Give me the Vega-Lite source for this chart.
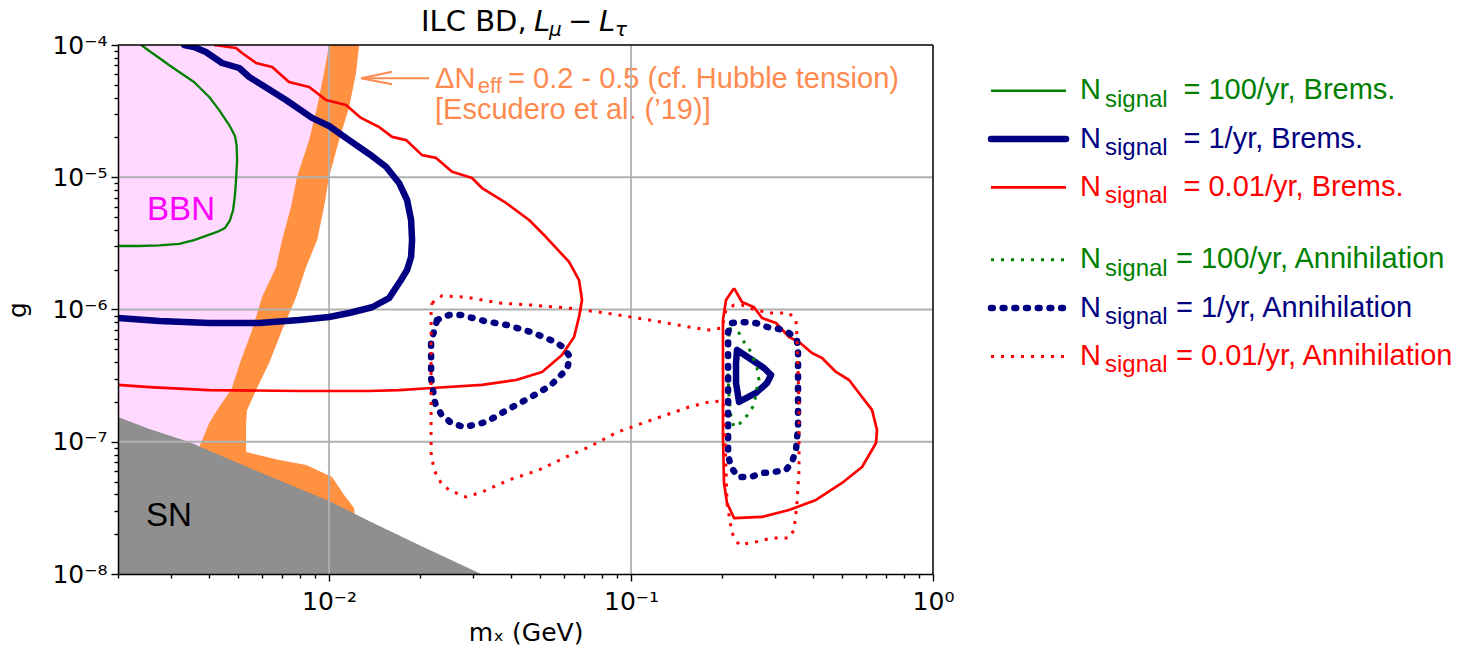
{
  "$schema": "https://vega.github.io/schema/vega-lite/v6.json",
  "width": 815,
  "height": 529,
  "autosize": {"type": "none"},
  "padding": {"left": 118, "top": 45, "right": 527, "bottom": 78},
  "background": "white",
  "config": {"view": {"stroke": null}, "font": "Liberation Sans", "axis": {"grid": false}},
  "datasets": {
    "band": [
      {"g": 1e-4, "lo": 0.0100, "hi": 0.01257},
      {"g": 6.142e-5, "lo": 0.00962, "hi": 0.01228},
      {"g": 3.398e-5, "lo": 0.00913, "hi": 0.01165},
      {"g": 1.912e-5, "lo": 0.00859, "hi": 0.01079},
      {"g": 1.004e-5, "lo": 0.00783, "hi": 0.0100},
      {"g": 5.957e-6, "lo": 0.00748, "hi": 0.00962},
      {"g": 3.354e-6, "lo": 0.00699, "hi": 0.00913},
      {"g": 2.096e-6, "lo": 0.00668, "hi": 0.00839},
      {"g": 1.243e-6, "lo": 0.00600, "hi": 0.00778},
      {"g": 6.998e-7, "lo": 0.00556, "hi": 0.00699},
      {"g": 3.940e-7, "lo": 0.00507, "hi": 0.00633},
      {"g": 2.462e-7, "lo": 0.00474, "hi": 0.00573},
      {"g": 2.180e-7, "lo": 0.00456, "hi": 0.00560},
      {"g": 1.739e-7, "lo": 0.00426, "hi": 0.00535},
      {"g": 1.386e-7, "lo": 0.00401, "hi": 0.00531},
      {"g": 8.366e-8, "lo": 0.00366, "hi": 0.00531},
      {"g": 7.278e-8, "lo": 0.00360, "hi": 0.00683},
      {"g": 6.671e-8, "lo": 0.00357, "hi": 0.00839},
      {"g": 5.415e-8, "lo": 0.00349, "hi": 0.01023},
      {"g": 3.957e-8, "lo": 0.00339, "hi": 0.01121},
      {"g": 3.155e-8, "lo": 0.00331, "hi": 0.01210},
      {"g": 2.150e-8, "lo": 0.00326, "hi": 0.01228}
    ],
    "sn": [
      {"m": 0.002, "g": 1.539e-7},
      {"m": 0.00254, "g": 1.248e-7},
      {"m": 0.00344, "g": 9.957e-8},
      {"m": 0.00587, "g": 5.905e-8},
      {"m": 0.0100, "g": 3.565e-8},
      {"m": 0.01357, "g": 2.517e-8},
      {"m": 0.01986, "g": 1.657e-8},
      {"m": 0.03187, "g": 1e-8},
      {"m": 1, "g": 1e-8}
    ],
    "curves": [
      {"series": "b100", "part": "A", "i": 0, "m": 0.002, "g": 3.02e-6},
      {"series": "b100", "part": "A", "i": 1, "m": 0.00235, "g": 3.02e-6},
      {"series": "b100", "part": "A", "i": 2, "m": 0.00274, "g": 3.05e-6},
      {"series": "b100", "part": "A", "i": 3, "m": 0.00319, "g": 3.13e-6},
      {"series": "b100", "part": "A", "i": 4, "m": 0.00357, "g": 3.35e-6},
      {"series": "b100", "part": "A", "i": 5, "m": 0.00391, "g": 3.60e-6},
      {"series": "b100", "part": "A", "i": 6, "m": 0.00426, "g": 3.86e-6},
      {"series": "b100", "part": "A", "i": 7, "m": 0.00452, "g": 4.13e-6},
      {"series": "b100", "part": "A", "i": 8, "m": 0.00470, "g": 4.75e-6},
      {"series": "b100", "part": "A", "i": 9, "m": 0.00481, "g": 5.65e-6},
      {"series": "b100", "part": "A", "i": 10, "m": 0.00488, "g": 7.34e-6},
      {"series": "b100", "part": "A", "i": 11, "m": 0.00492, "g": 9.53e-6},
      {"series": "b100", "part": "A", "i": 12, "m": 0.00496, "g": 1.35e-5},
      {"series": "b100", "part": "A", "i": 13, "m": 0.00494, "g": 1.75e-5},
      {"series": "b100", "part": "A", "i": 14, "m": 0.00488, "g": 2.05e-5},
      {"series": "b100", "part": "A", "i": 15, "m": 0.00467, "g": 2.48e-5},
      {"series": "b100", "part": "A", "i": 16, "m": 0.00432, "g": 3.23e-5},
      {"series": "b100", "part": "A", "i": 17, "m": 0.00401, "g": 4.04e-5},
      {"series": "b100", "part": "A", "i": 18, "m": 0.00357, "g": 5.25e-5},
      {"series": "b100", "part": "A", "i": 19, "m": 0.00319, "g": 6.25e-5},
      {"series": "b100", "part": "A", "i": 20, "m": 0.00295, "g": 7.06e-5},
      {"series": "b100", "part": "A", "i": 21, "m": 0.00274, "g": 7.97e-5},
      {"series": "b100", "part": "A", "i": 22, "m": 0.00254, "g": 9.01e-5},
      {"series": "b100", "part": "A", "i": 23, "m": 0.00239, "g": 1e-4},

      {"series": "b1", "part": "A", "i": 0, "m": 0.00331, "g": 1e-4},
      {"series": "b1", "part": "A", "i": 1, "m": 0.00357, "g": 9.66e-5},
      {"series": "b1", "part": "A", "i": 2, "m": 0.00391, "g": 8.85e-5},
      {"series": "b1", "part": "A", "i": 3, "m": 0.00442, "g": 7.31e-5},
      {"series": "b1", "part": "A", "i": 4, "m": 0.00504, "g": 6.70e-5},
      {"series": "b1", "part": "A", "i": 5, "m": 0.00544, "g": 5.73e-5},
      {"series": "b1", "part": "A", "i": 6, "m": 0.00600, "g": 4.98e-5},
      {"series": "b1", "part": "A", "i": 7, "m": 0.00720, "g": 3.84e-5},
      {"series": "b1", "part": "A", "i": 8, "m": 0.00878, "g": 2.81e-5},
      {"series": "b1", "part": "A", "i": 9, "m": 0.0100, "g": 2.44e-5},
      {"series": "b1", "part": "A", "i": 10, "m": 0.01165, "g": 1.91e-5},
      {"series": "b1", "part": "A", "i": 11, "m": 0.01357, "g": 1.50e-5},
      {"series": "b1", "part": "A", "i": 12, "m": 0.01544, "g": 1.20e-5},
      {"series": "b1", "part": "A", "i": 13, "m": 0.01705, "g": 9.05e-6},
      {"series": "b1", "part": "A", "i": 14, "m": 0.01813, "g": 6.73e-6},
      {"series": "b1", "part": "A", "i": 15, "m": 0.01869, "g": 4.75e-6},
      {"series": "b1", "part": "A", "i": 16, "m": 0.01883, "g": 3.35e-6},
      {"series": "b1", "part": "A", "i": 17, "m": 0.01869, "g": 2.50e-6},
      {"series": "b1", "part": "A", "i": 18, "m": 0.01813, "g": 1.99e-6},
      {"series": "b1", "part": "A", "i": 19, "m": 0.01731, "g": 1.67e-6},
      {"series": "b1", "part": "A", "i": 20, "m": 0.01580, "g": 1.22e-6},
      {"series": "b1", "part": "A", "i": 21, "m": 0.01388, "g": 1.04e-6},
      {"series": "b1", "part": "A", "i": 22, "m": 0.01165, "g": 9.41e-7},
      {"series": "b1", "part": "A", "i": 23, "m": 0.0100, "g": 8.78e-7},
      {"series": "b1", "part": "A", "i": 24, "m": 0.00796, "g": 8.33e-7},
      {"series": "b1", "part": "A", "i": 25, "m": 0.00587, "g": 7.90e-7},
      {"series": "b1", "part": "A", "i": 26, "m": 0.00401, "g": 7.90e-7},
      {"series": "b1", "part": "A", "i": 27, "m": 0.00274, "g": 8.19e-7},
      {"series": "b1", "part": "A", "i": 28, "m": 0.002, "g": 8.63e-7},
      {"series": "b1", "part": "B", "i": 0, "m": 0.2244, "g": 4.94e-7},
      {"series": "b1", "part": "B", "i": 1, "m": 0.2516, "g": 4.15e-7},
      {"series": "b1", "part": "B", "i": 2, "m": 0.2757, "g": 3.61e-7},
      {"series": "b1", "part": "B", "i": 3, "m": 0.2909, "g": 3.20e-7},
      {"series": "b1", "part": "B", "i": 4, "m": 0.2821, "g": 2.78e-7},
      {"series": "b1", "part": "B", "i": 5, "m": 0.2593, "g": 2.34e-7},
      {"series": "b1", "part": "B", "i": 6, "m": 0.2279, "g": 2.00e-7},
      {"series": "b1", "part": "B", "i": 7, "m": 0.2227, "g": 2.78e-7},
      {"series": "b1", "part": "B", "i": 8, "m": 0.2227, "g": 3.94e-7},
      {"series": "b1", "part": "B", "i": 9, "m": 0.2244, "g": 4.94e-7},

      {"series": "b001", "part": "A", "i": 0, "m": 0.00416, "g": 1e-4},
      {"series": "b001", "part": "A", "i": 1, "m": 0.00492, "g": 9.49e-5},
      {"series": "b001", "part": "A", "i": 2, "m": 0.00515, "g": 8.70e-5},
      {"series": "b001", "part": "A", "i": 3, "m": 0.00573, "g": 7.31e-5},
      {"series": "b001", "part": "A", "i": 4, "m": 0.00648, "g": 6.82e-5},
      {"series": "b001", "part": "A", "i": 5, "m": 0.00737, "g": 5.25e-5},
      {"series": "b001", "part": "A", "i": 6, "m": 0.00859, "g": 4.81e-5},
      {"series": "b001", "part": "A", "i": 7, "m": 0.00977, "g": 3.84e-5},
      {"series": "b001", "part": "A", "i": 8, "m": 0.01138, "g": 3.52e-5},
      {"series": "b001", "part": "A", "i": 9, "m": 0.01276, "g": 2.81e-5},
      {"series": "b001", "part": "A", "i": 10, "m": 0.01464, "g": 2.40e-5},
      {"series": "b001", "part": "A", "i": 11, "m": 0.01617, "g": 2.02e-5},
      {"series": "b001", "part": "A", "i": 12, "m": 0.01799, "g": 1.91e-5},
      {"series": "b001", "part": "A", "i": 13, "m": 0.02032, "g": 1.47e-5},
      {"series": "b001", "part": "A", "i": 14, "m": 0.02262, "g": 1.40e-5},
      {"series": "b001", "part": "A", "i": 15, "m": 0.02555, "g": 1.10e-5},
      {"series": "b001", "part": "A", "i": 16, "m": 0.02975, "g": 9.87e-6},
      {"series": "b001", "part": "A", "i": 17, "m": 0.03211, "g": 8.29e-6},
      {"series": "b001", "part": "A", "i": 18, "m": 0.03855, "g": 6.39e-6},
      {"series": "b001", "part": "A", "i": 19, "m": 0.04596, "g": 4.75e-6},
      {"series": "b001", "part": "A", "i": 20, "m": 0.05230, "g": 3.53e-6},
      {"series": "b001", "part": "A", "i": 21, "m": 0.06233, "g": 2.29e-6},
      {"series": "b001", "part": "A", "i": 22, "m": 0.06726, "g": 1.67e-6},
      {"series": "b001", "part": "A", "i": 23, "m": 0.06881, "g": 1.18e-6},
      {"series": "b001", "part": "A", "i": 24, "m": 0.06726, "g": 8.78e-7},
      {"series": "b001", "part": "A", "i": 25, "m": 0.06476, "g": 6.20e-7},
      {"series": "b001", "part": "A", "i": 26, "m": 0.05908, "g": 4.53e-7},
      {"series": "b001", "part": "A", "i": 27, "m": 0.05074, "g": 3.37e-7},
      {"series": "b001", "part": "A", "i": 28, "m": 0.04161, "g": 2.93e-7},
      {"series": "b001", "part": "A", "i": 29, "m": 0.03211, "g": 2.69e-7},
      {"series": "b001", "part": "A", "i": 30, "m": 0.02193, "g": 2.55e-7},
      {"series": "b001", "part": "A", "i": 31, "m": 0.01705, "g": 2.46e-7},
      {"series": "b001", "part": "A", "i": 32, "m": 0.01357, "g": 2.42e-7},
      {"series": "b001", "part": "A", "i": 33, "m": 0.00796, "g": 2.42e-7},
      {"series": "b001", "part": "A", "i": 34, "m": 0.00401, "g": 2.46e-7},
      {"series": "b001", "part": "A", "i": 35, "m": 0.00254, "g": 2.59e-7},
      {"series": "b001", "part": "A", "i": 36, "m": 0.002, "g": 2.69e-7},
      {"series": "b001", "part": "B", "i": 0, "m": 0.2193, "g": 1.45e-6},
      {"series": "b001", "part": "B", "i": 1, "m": 0.2330, "g": 1.14e-6},
      {"series": "b001", "part": "B", "i": 2, "m": 0.2555, "g": 1.04e-6},
      {"series": "b001", "part": "B", "i": 3, "m": 0.2716, "g": 8.63e-7},
      {"series": "b001", "part": "B", "i": 4, "m": 0.3021, "g": 7.90e-7},
      {"series": "b001", "part": "B", "i": 5, "m": 0.3336, "g": 6.20e-7},
      {"series": "b001", "part": "B", "i": 6, "m": 0.3600, "g": 5.68e-7},
      {"series": "b001", "part": "B", "i": 7, "m": 0.3974, "g": 4.69e-7},
      {"series": "b001", "part": "B", "i": 8, "m": 0.4291, "g": 4.30e-7},
      {"series": "b001", "part": "B", "i": 9, "m": 0.4773, "g": 3.37e-7},
      {"series": "b001", "part": "B", "i": 10, "m": 0.5272, "g": 2.93e-7},
      {"series": "b001", "part": "B", "i": 11, "m": 0.5821, "g": 2.18e-7},
      {"series": "b001", "part": "B", "i": 12, "m": 0.6281, "g": 1.74e-7},
      {"series": "b001", "part": "B", "i": 13, "m": 0.6525, "g": 1.23e-7},
      {"series": "b001", "part": "B", "i": 14, "m": 0.6476, "g": 9.78e-8},
      {"series": "b001", "part": "B", "i": 15, "m": 0.5821, "g": 6.44e-8},
      {"series": "b001", "part": "B", "i": 16, "m": 0.4997, "g": 4.88e-8},
      {"series": "b001", "part": "B", "i": 17, "m": 0.4099, "g": 3.63e-8},
      {"series": "b001", "part": "B", "i": 18, "m": 0.3336, "g": 3.05e-8},
      {"series": "b001", "part": "B", "i": 19, "m": 0.2716, "g": 2.70e-8},
      {"series": "b001", "part": "B", "i": 20, "m": 0.2193, "g": 2.65e-8},
      {"series": "b001", "part": "B", "i": 21, "m": 0.2079, "g": 3.44e-8},
      {"series": "b001", "part": "B", "i": 22, "m": 0.2032, "g": 4.88e-8},
      {"series": "b001", "part": "B", "i": 23, "m": 0.2016, "g": 1.09e-7},
      {"series": "b001", "part": "B", "i": 24, "m": 0.2016, "g": 3.49e-7},
      {"series": "b001", "part": "B", "i": 25, "m": 0.2016, "g": 8.33e-7},
      {"series": "b001", "part": "B", "i": 26, "m": 0.2063, "g": 1.18e-6},
      {"series": "b001", "part": "B", "i": 27, "m": 0.2193, "g": 1.45e-6},

      {"series": "a100", "part": "A", "i": 0, "m": 0.2111, "g": 7.25e-7},
      {"series": "a100", "part": "A", "i": 1, "m": 0.2279, "g": 6.64e-7},
      {"series": "a100", "part": "A", "i": 2, "m": 0.2367, "g": 5.68e-7},
      {"series": "a100", "part": "A", "i": 3, "m": 0.2497, "g": 4.77e-7},
      {"series": "a100", "part": "A", "i": 4, "m": 0.2613, "g": 3.61e-7},
      {"series": "a100", "part": "A", "i": 5, "m": 0.2653, "g": 2.93e-7},
      {"series": "a100", "part": "A", "i": 6, "m": 0.2613, "g": 2.55e-7},
      {"series": "a100", "part": "A", "i": 7, "m": 0.2555, "g": 1.90e-7},
      {"series": "a100", "part": "A", "i": 8, "m": 0.2459, "g": 1.65e-7},
      {"series": "a100", "part": "A", "i": 9, "m": 0.2330, "g": 1.41e-7},
      {"series": "a100", "part": "A", "i": 10, "m": 0.2193, "g": 1.29e-7},
      {"series": "a100", "part": "A", "i": 11, "m": 0.2144, "g": 1.54e-7},
      {"series": "a100", "part": "A", "i": 12, "m": 0.2111, "g": 2.18e-7},
      {"series": "a100", "part": "A", "i": 13, "m": 0.2096, "g": 3.09e-7},
      {"series": "a100", "part": "A", "i": 14, "m": 0.2096, "g": 4.37e-7},
      {"series": "a100", "part": "A", "i": 15, "m": 0.2111, "g": 5.88e-7},
      {"series": "a100", "part": "A", "i": 16, "m": 0.2111, "g": 7.25e-7},

      {"series": "a1", "part": "A", "i": 0, "m": 0.02279, "g": 8.33e-7},
      {"series": "a1", "part": "A", "i": 1, "m": 0.02496, "g": 9.09e-7},
      {"series": "a1", "part": "A", "i": 2, "m": 0.02736, "g": 9.09e-7},
      {"series": "a1", "part": "A", "i": 3, "m": 0.03261, "g": 8.19e-7},
      {"series": "a1", "part": "A", "i": 4, "m": 0.03885, "g": 7.63e-7},
      {"series": "a1", "part": "A", "i": 5, "m": 0.04665, "g": 6.76e-7},
      {"series": "a1", "part": "A", "i": 6, "m": 0.05516, "g": 5.78e-7},
      {"series": "a1", "part": "A", "i": 7, "m": 0.05953, "g": 5.21e-7},
      {"series": "a1", "part": "A", "i": 8, "m": 0.06281, "g": 4.37e-7},
      {"series": "a1", "part": "A", "i": 9, "m": 0.06139, "g": 3.55e-7},
      {"series": "a1", "part": "A", "i": 10, "m": 0.05391, "g": 2.64e-7},
      {"series": "a1", "part": "A", "i": 11, "m": 0.04596, "g": 2.14e-7},
      {"series": "a1", "part": "A", "i": 12, "m": 0.03885, "g": 1.74e-7},
      {"series": "a1", "part": "A", "i": 13, "m": 0.03311, "g": 1.41e-7},
      {"series": "a1", "part": "A", "i": 14, "m": 0.02799, "g": 1.29e-7},
      {"series": "a1", "part": "A", "i": 15, "m": 0.02535, "g": 1.39e-7},
      {"series": "a1", "part": "A", "i": 16, "m": 0.02349, "g": 1.62e-7},
      {"series": "a1", "part": "A", "i": 17, "m": 0.02244, "g": 1.96e-7},
      {"series": "a1", "part": "A", "i": 18, "m": 0.02177, "g": 3.03e-7},
      {"series": "a1", "part": "A", "i": 19, "m": 0.02177, "g": 5.68e-7},
      {"series": "a1", "part": "A", "i": 20, "m": 0.02279, "g": 8.33e-7},
      {"series": "a1", "part": "B", "i": 0, "m": 0.2160, "g": 7.90e-7},
      {"series": "a1", "part": "B", "i": 1, "m": 0.2330, "g": 8.04e-7},
      {"series": "a1", "part": "B", "i": 2, "m": 0.2593, "g": 7.90e-7},
      {"series": "a1", "part": "B", "i": 3, "m": 0.2821, "g": 7.38e-7},
      {"series": "a1", "part": "B", "i": 4, "m": 0.3091, "g": 7.12e-7},
      {"series": "a1", "part": "B", "i": 5, "m": 0.3336, "g": 6.64e-7},
      {"series": "a1", "part": "B", "i": 6, "m": 0.3545, "g": 5.88e-7},
      {"series": "a1", "part": "B", "i": 7, "m": 0.3573, "g": 4.69e-7},
      {"series": "a1", "part": "B", "i": 8, "m": 0.3573, "g": 1.96e-7},
      {"series": "a1", "part": "B", "i": 9, "m": 0.3573, "g": 1.29e-7},
      {"series": "a1", "part": "B", "i": 10, "m": 0.3518, "g": 8.66e-8},
      {"series": "a1", "part": "B", "i": 11, "m": 0.3413, "g": 7.03e-8},
      {"series": "a1", "part": "B", "i": 12, "m": 0.3261, "g": 6.12e-8},
      {"series": "a1", "part": "B", "i": 13, "m": 0.2976, "g": 5.91e-8},
      {"series": "a1", "part": "B", "i": 14, "m": 0.2716, "g": 5.80e-8},
      {"series": "a1", "part": "B", "i": 15, "m": 0.2497, "g": 5.42e-8},
      {"series": "a1", "part": "B", "i": 16, "m": 0.2262, "g": 5.42e-8},
      {"series": "a1", "part": "B", "i": 17, "m": 0.2144, "g": 6.44e-8},
      {"series": "a1", "part": "B", "i": 18, "m": 0.2096, "g": 7.94e-8},
      {"series": "a1", "part": "B", "i": 19, "m": 0.2096, "g": 1.19e-7},
      {"series": "a1", "part": "B", "i": 20, "m": 0.2096, "g": 2.59e-7},
      {"series": "a1", "part": "B", "i": 21, "m": 0.2096, "g": 5.58e-7},
      {"series": "a1", "part": "B", "i": 22, "m": 0.2096, "g": 6.76e-7},
      {"series": "a1", "part": "B", "i": 23, "m": 0.2160, "g": 7.90e-7},

      {"series": "a001", "part": "A", "i": 0, "m": 0.02193, "g": 1.12e-6},
      {"series": "a001", "part": "A", "i": 1, "m": 0.02367, "g": 1.27e-6},
      {"series": "a001", "part": "A", "i": 2, "m": 0.02842, "g": 1.24e-6},
      {"series": "a001", "part": "A", "i": 3, "m": 0.03655, "g": 1.12e-6},
      {"series": "a001", "part": "A", "i": 4, "m": 0.04701, "g": 1.08e-6},
      {"series": "a001", "part": "A", "i": 5, "m": 0.06093, "g": 1.03e-6},
      {"series": "a001", "part": "A", "i": 6, "m": 0.08266, "g": 9.41e-7},
      {"series": "a001", "part": "A", "i": 7, "m": 0.1147, "g": 8.33e-7},
      {"series": "a001", "part": "A", "i": 8, "m": 0.1556, "g": 7.38e-7},
      {"series": "a001", "part": "A", "i": 9, "m": 0.1813, "g": 7.00e-7},
      {"series": "a001", "part": "A", "i": 10, "m": 0.2001, "g": 7.25e-7},
      {"series": "a001", "part": "A", "i": 11, "m": 0.2063, "g": 9.91e-7},
      {"series": "a001", "part": "A", "i": 12, "m": 0.2193, "g": 1.08e-6},
      {"series": "a001", "part": "A", "i": 13, "m": 0.2330, "g": 1.08e-6},
      {"series": "a001", "part": "A", "i": 14, "m": 0.2516, "g": 1.01e-6},
      {"series": "a001", "part": "A", "i": 15, "m": 0.2864, "g": 9.41e-7},
      {"series": "a001", "part": "A", "i": 16, "m": 0.3336, "g": 9.41e-7},
      {"series": "a001", "part": "A", "i": 17, "m": 0.3518, "g": 8.33e-7},
      {"series": "a001", "part": "A", "i": 18, "m": 0.3545, "g": 6.20e-7},
      {"series": "a001", "part": "A", "i": 19, "m": 0.3600, "g": 1.96e-7},
      {"series": "a001", "part": "A", "i": 20, "m": 0.3600, "g": 6.12e-8},
      {"series": "a001", "part": "A", "i": 21, "m": 0.3545, "g": 3.44e-8},
      {"series": "a001", "part": "A", "i": 22, "m": 0.3465, "g": 2.15e-8},
      {"series": "a001", "part": "A", "i": 23, "m": 0.3336, "g": 1.87e-8},
      {"series": "a001", "part": "A", "i": 24, "m": 0.2930, "g": 1.87e-8},
      {"series": "a001", "part": "A", "i": 25, "m": 0.2593, "g": 1.75e-8},
      {"series": "a001", "part": "A", "i": 26, "m": 0.2279, "g": 1.66e-8},
      {"series": "a001", "part": "A", "i": 27, "m": 0.2160, "g": 2.04e-8},
      {"series": "a001", "part": "A", "i": 28, "m": 0.2079, "g": 3.44e-8},
      {"series": "a001", "part": "A", "i": 29, "m": 0.2063, "g": 6.12e-8},
      {"series": "a001", "part": "A", "i": 30, "m": 0.2048, "g": 1.09e-7},
      {"series": "a001", "part": "A", "i": 31, "m": 0.2016, "g": 2.03e-7},
      {"series": "a001", "part": "A", "i": 32, "m": 0.1813, "g": 2.00e-7},
      {"series": "a001", "part": "A", "i": 33, "m": 0.1556, "g": 1.83e-7},
      {"series": "a001", "part": "A", "i": 34, "m": 0.1147, "g": 1.44e-7},
      {"series": "a001", "part": "A", "i": 35, "m": 0.08918, "g": 1.17e-7},
      {"series": "a001", "part": "A", "i": 36, "m": 0.07259, "g": 9.13e-8},
      {"series": "a001", "part": "A", "i": 37, "m": 0.06093, "g": 7.67e-8},
      {"series": "a001", "part": "A", "i": 38, "m": 0.04959, "g": 6.12e-8},
      {"series": "a001", "part": "A", "i": 39, "m": 0.03945, "g": 5.14e-8},
      {"series": "a001", "part": "A", "i": 40, "m": 0.03211, "g": 4.17e-8},
      {"series": "a001", "part": "A", "i": 41, "m": 0.02842, "g": 3.82e-8},
      {"series": "a001", "part": "A", "i": 42, "m": 0.02496, "g": 4.32e-8},
      {"series": "a001", "part": "A", "i": 43, "m": 0.02349, "g": 4.88e-8},
      {"series": "a001", "part": "A", "i": 44, "m": 0.02227, "g": 6.12e-8},
      {"series": "a001", "part": "A", "i": 45, "m": 0.02177, "g": 8.22e-8},
      {"series": "a001", "part": "A", "i": 46, "m": 0.02177, "g": 1.96e-7},
      {"series": "a001", "part": "A", "i": 47, "m": 0.02177, "g": 4.69e-7},
      {"series": "a001", "part": "A", "i": 48, "m": 0.02177, "g": 9.91e-7},
      {"series": "a001", "part": "A", "i": 49, "m": 0.02193, "g": 1.12e-6}
    ]
  },
  "layer": [
    {
      "data": {"name": "sn"},
      "mark": {"type": "area", "opacity": 0},
      "encoding": {
        "x": {"field": "m", "type": "quantitative", "scale": {"type": "log", "domain": [0.002, 1]},
          "axis": {
            "title": "mₓ (GeV)",
            "values": [0.002, 0.003, 0.004, 0.005, 0.006, 0.007, 0.008, 0.009, 0.01, 0.02, 0.03, 0.04, 0.05, 0.06, 0.07, 0.08, 0.09, 0.1, 0.2, 0.3, 0.4, 0.5, 0.6, 0.7, 0.8, 0.9, 1],
            "labelExpr": "abs(log(datum.value)/LN10 - round(log(datum.value)/LN10)) > 0.001 ? '' : (round(log(datum.value)/LN10) == -2 ? '10⁻²' : (round(log(datum.value)/LN10) == -1 ? '10⁻¹' : '10⁰'))",
            "grid": false,
            "tickSize": 7,
            "tickDash": {"condition": {"test": "abs(log(datum.value)/LN10 - round(log(datum.value)/LN10)) < 0.001", "value": [8, 0]}, "value": [4, 20]},
            "tickColor": "black", "tickWidth": 1.4,
            "domainColor": "black", "domainWidth": 1.5,
            "labelFont": "DejaVu Sans", "labelFontSize": 25, "labelColor": "black", "labelPadding": 8,
            "labelOverlap": false, "labelBound": false, "labelFlush": false,
            "titleFont": "DejaVu Sans", "titleFontSize": 25, "titleFontWeight": "normal", "titleColor": "black", "titlePadding": 6,
            "zindex": 1
          }
        },
        "y": {"field": "g", "type": "quantitative", "scale": {"type": "log", "domain": [1e-8, 1e-4]},
          "axis": {
            "title": "g",
            "values": [1e-8, 2e-8, 3e-8, 4e-8, 5e-8, 6e-8, 7e-8, 8e-8, 9e-8, 1e-7, 2e-7, 3e-7, 4e-7, 5e-7, 6e-7, 7e-7, 8e-7, 9e-7, 1e-6, 2e-6, 3e-6, 4e-6, 5e-6, 6e-6, 7e-6, 8e-6, 9e-6, 1e-5, 2e-5, 3e-5, 4e-5, 5e-5, 6e-5, 7e-5, 8e-5, 9e-5, 1e-4],
            "labelExpr": "abs(log(datum.value)/LN10 - round(log(datum.value)/LN10)) > 0.001 ? '' : (round(log(datum.value)/LN10) == -8 ? '10⁻⁸' : (round(log(datum.value)/LN10) == -7 ? '10⁻⁷' : (round(log(datum.value)/LN10) == -6 ? '10⁻⁶' : (round(log(datum.value)/LN10) == -5 ? '10⁻⁵' : '10⁻⁴'))))",
            "grid": false,
            "tickSize": 7,
            "tickDash": {"condition": {"test": "abs(log(datum.value)/LN10 - round(log(datum.value)/LN10)) < 0.001", "value": [8, 0]}, "value": [4, 20]},
            "tickColor": "black", "tickWidth": 1.4,
            "domainColor": "black", "domainWidth": 1.5,
            "labelFont": "DejaVu Sans", "labelFontSize": 25, "labelColor": "black", "labelPadding": 4,
            "labelOverlap": false, "labelBound": false, "labelFlush": false,
            "titleFont": "DejaVu Sans", "titleFontSize": 25, "titleFontWeight": "normal", "titleColor": "black", "titlePadding": 21,
            "zindex": 1
          }
        }
      }
    },
    {
      "data": {"name": "band"},
      "mark": {"type": "area", "orient": "horizontal", "color": "#FFD9FF", "clip": true},
      "encoding": {
        "y": {"field": "g", "type": "quantitative", "scale": {"type": "log", "domain": [1e-8, 1e-4]}},
        "x": {"field": "hi", "type": "quantitative", "scale": {"type": "log", "domain": [0.002, 1]}},
        "x2": {"datum": 0.002}
      }
    },
    {
      "data": {"name": "band"},
      "mark": {"type": "area", "orient": "horizontal", "color": "#FF9140", "clip": true},
      "encoding": {
        "y": {"field": "g", "type": "quantitative", "scale": {"type": "log", "domain": [1e-8, 1e-4]}},
        "x": {"field": "lo", "type": "quantitative", "scale": {"type": "log", "domain": [0.002, 1]}},
        "x2": {"field": "hi"}
      }
    },
    {
      "data": {"name": "sn"},
      "mark": {"type": "area", "color": "#8F8F8F", "clip": true},
      "encoding": {
        "x": {"field": "m", "type": "quantitative", "scale": {"type": "log", "domain": [0.002, 1]}},
        "y": {"field": "g", "type": "quantitative", "scale": {"type": "log", "domain": [1e-8, 1e-4]}},
        "y2": {"datum": 1e-8}
      }
    },
    {
      "data": {"values": [{}]},
      "mark": {"type": "text", "text": "BBN", "color": "#FF00FF", "font": "Liberation Sans", "fontSize": 33, "align": "left", "baseline": "alphabetic"},
      "encoding": {
        "x": {"datum": 0.002497, "type": "quantitative", "scale": {"type": "log", "domain": [0.002, 1]}},
        "y": {"datum": 4.75e-6, "type": "quantitative", "scale": {"type": "log", "domain": [1e-8, 1e-4]}}
      }
    },
    {
      "data": {"values": [{}]},
      "mark": {"type": "text", "text": "SN", "color": "black", "font": "Liberation Sans", "fontSize": 33, "align": "left", "baseline": "alphabetic"},
      "encoding": {
        "x": {"datum": 0.002477, "type": "quantitative", "scale": {"type": "log", "domain": [0.002, 1]}},
        "y": {"datum": 2.306e-8, "type": "quantitative", "scale": {"type": "log", "domain": [1e-8, 1e-4]}}
      }
    },
    {
      "data": {"values": [{}]},
      "mark": {"type": "text", "text": "ΔN", "color": "#FF8A50", "font": "Liberation Sans", "fontSize": 29, "align": "left", "baseline": "alphabetic"},
      "encoding": {
        "x": {"datum": 0.02244, "type": "quantitative", "scale": {"type": "log", "domain": [0.002, 1]}},
        "y": {"datum": 4.731e-5, "type": "quantitative", "scale": {"type": "log", "domain": [1e-8, 1e-4]}}
      }
    },
    {
      "data": {"values": [{}]},
      "mark": {"type": "text", "text": "eff", "color": "#FF8A50", "font": "Liberation Sans", "fontSize": 22, "align": "left", "baseline": "alphabetic"},
      "encoding": {
        "x": {"datum": 0.0311, "type": "quantitative", "scale": {"type": "log", "domain": [0.002, 1]}},
        "y": {"datum": 4.3e-5, "type": "quantitative", "scale": {"type": "log", "domain": [1e-8, 1e-4]}}
      }
    },
    {
      "data": {"values": [{}]},
      "mark": {"type": "text", "text": "= 0.2 - 0.5 (cf. Hubble tension)", "color": "#FF8A50", "font": "Liberation Sans", "fontSize": 29, "align": "left", "baseline": "alphabetic"},
      "encoding": {
        "x": {"datum": 0.03915, "type": "quantitative", "scale": {"type": "log", "domain": [0.002, 1]}},
        "y": {"datum": 4.731e-5, "type": "quantitative", "scale": {"type": "log", "domain": [1e-8, 1e-4]}}
      }
    },
    {
      "data": {"values": [{}]},
      "mark": {"type": "text", "text": "[Escudero et al. (’19)]", "color": "#FF8A50", "font": "Liberation Sans", "fontSize": 29, "align": "left", "baseline": "alphabetic"},
      "encoding": {
        "x": {"datum": 0.02244, "type": "quantitative", "scale": {"type": "log", "domain": [0.002, 1]}},
        "y": {"datum": 2.757e-5, "type": "quantitative", "scale": {"type": "log", "domain": [1e-8, 1e-4]}}
      }
    },
    {
      "data": {"values": [{}]},
      "mark": {"type": "rule", "color": "#FF8A50", "strokeWidth": 2},
      "encoding": {
        "x": {"datum": 0.02144, "type": "quantitative", "scale": {"type": "log", "domain": [0.002, 1]}},
        "x2": {"datum": 0.01276},
        "y": {"datum": 5.6e-5, "type": "quantitative", "scale": {"type": "log", "domain": [1e-8, 1e-4]}},
        "y2": {"datum": 5.6e-5}
      }
    },
    {
      "data": {"values": [{}]},
      "mark": {"type": "rule", "color": "#FF8A50", "strokeWidth": 2},
      "encoding": {
        "x": {"datum": 0.01276, "type": "quantitative", "scale": {"type": "log", "domain": [0.002, 1]}},
        "x2": {"datum": 0.01617},
        "y": {"datum": 5.6e-5, "type": "quantitative", "scale": {"type": "log", "domain": [1e-8, 1e-4]}},
        "y2": {"datum": 6.283e-5}
      }
    },
    {
      "data": {"values": [{}]},
      "mark": {"type": "rule", "color": "#FF8A50", "strokeWidth": 2},
      "encoding": {
        "x": {"datum": 0.01276, "type": "quantitative", "scale": {"type": "log", "domain": [0.002, 1]}},
        "x2": {"datum": 0.01617},
        "y": {"datum": 5.6e-5, "type": "quantitative", "scale": {"type": "log", "domain": [1e-8, 1e-4]}},
        "y2": {"datum": 5.045e-5}
      }
    },
    {
      "data": {"values": [{}]},
      "mark": {"type": "rule", "color": "#B0B0B0", "strokeWidth": 1.8},
      "encoding": {"x": {"datum": 0.01, "type": "quantitative", "scale": {"type": "log", "domain": [0.002, 1]}}}
    },
    {
      "data": {"values": [{}]},
      "mark": {"type": "rule", "color": "#B0B0B0", "strokeWidth": 1.8},
      "encoding": {"x": {"datum": 0.1, "type": "quantitative", "scale": {"type": "log", "domain": [0.002, 1]}}}
    },
    {
      "data": {"values": [{}]},
      "mark": {"type": "rule", "color": "#B0B0B0", "strokeWidth": 1.8},
      "encoding": {"y": {"datum": 1e-5, "type": "quantitative", "scale": {"type": "log", "domain": [1e-8, 1e-4]}}}
    },
    {
      "data": {"values": [{}]},
      "mark": {"type": "rule", "color": "#B0B0B0", "strokeWidth": 1.8},
      "encoding": {"y": {"datum": 1e-6, "type": "quantitative", "scale": {"type": "log", "domain": [1e-8, 1e-4]}}}
    },
    {
      "data": {"values": [{}]},
      "mark": {"type": "rule", "color": "#B0B0B0", "strokeWidth": 1.8},
      "encoding": {"y": {"datum": 1e-7, "type": "quantitative", "scale": {"type": "log", "domain": [1e-8, 1e-4]}}}
    },
    {
      "data": {"name": "curves"},
      "transform": [{"filter": "datum.series == 'b100'"}],
      "mark": {"type": "line", "color": "#008000", "strokeWidth": 2.3, "strokeJoin": "round", "clip": true},
      "encoding": {
        "x": {"field": "m", "type": "quantitative", "scale": {"type": "log", "domain": [0.002, 1]}},
        "y": {"field": "g", "type": "quantitative", "scale": {"type": "log", "domain": [1e-8, 1e-4]}},
        "detail": {"field": "part"},
        "order": {"field": "i", "type": "quantitative"}
      }
    },
    {
      "data": {"name": "curves"},
      "transform": [{"filter": "datum.series == 'b1'"}],
      "mark": {"type": "line", "color": "#000080", "strokeWidth": 6.5, "strokeJoin": "round", "strokeCap": "round", "clip": true},
      "encoding": {
        "x": {"field": "m", "type": "quantitative", "scale": {"type": "log", "domain": [0.002, 1]}},
        "y": {"field": "g", "type": "quantitative", "scale": {"type": "log", "domain": [1e-8, 1e-4]}},
        "detail": {"field": "part"},
        "order": {"field": "i", "type": "quantitative"}
      }
    },
    {
      "data": {"name": "curves"},
      "transform": [{"filter": "datum.series == 'b001'"}],
      "mark": {"type": "line", "color": "#FF0000", "strokeWidth": 2.7, "strokeJoin": "round", "clip": true},
      "encoding": {
        "x": {"field": "m", "type": "quantitative", "scale": {"type": "log", "domain": [0.002, 1]}},
        "y": {"field": "g", "type": "quantitative", "scale": {"type": "log", "domain": [1e-8, 1e-4]}},
        "detail": {"field": "part"},
        "order": {"field": "i", "type": "quantitative"}
      }
    },
    {
      "data": {"name": "curves"},
      "transform": [{"filter": "datum.series == 'a100'"}],
      "mark": {"type": "line", "color": "#008000", "strokeWidth": 3, "strokeDash": [3, 7], "clip": true},
      "encoding": {
        "x": {"field": "m", "type": "quantitative", "scale": {"type": "log", "domain": [0.002, 1]}},
        "y": {"field": "g", "type": "quantitative", "scale": {"type": "log", "domain": [1e-8, 1e-4]}},
        "detail": {"field": "part"},
        "order": {"field": "i", "type": "quantitative"}
      }
    },
    {
      "data": {"name": "curves"},
      "transform": [{"filter": "datum.series == 'a1'"}],
      "mark": {"type": "line", "color": "#000080", "strokeWidth": 6.5, "strokeDash": [1.8, 9.9], "strokeCap": "round", "clip": true},
      "encoding": {
        "x": {"field": "m", "type": "quantitative", "scale": {"type": "log", "domain": [0.002, 1]}},
        "y": {"field": "g", "type": "quantitative", "scale": {"type": "log", "domain": [1e-8, 1e-4]}},
        "detail": {"field": "part"},
        "order": {"field": "i", "type": "quantitative"}
      }
    },
    {
      "data": {"name": "curves"},
      "transform": [{"filter": "datum.series == 'a001'"}],
      "mark": {"type": "line", "color": "#FF0000", "strokeWidth": 3, "strokeDash": [3, 7], "clip": true},
      "encoding": {
        "x": {"field": "m", "type": "quantitative", "scale": {"type": "log", "domain": [0.002, 1]}},
        "y": {"field": "g", "type": "quantitative", "scale": {"type": "log", "domain": [1e-8, 1e-4]}},
        "detail": {"field": "part"},
        "order": {"field": "i", "type": "quantitative"}
      }
    },
    {
      "data": {"values": [{}]},
      "mark": {"type": "rule", "color": "black", "strokeWidth": 1.5},
      "encoding": {"y": {"datum": 1e-4, "type": "quantitative", "scale": {"type": "log", "domain": [1e-8, 1e-4]}}}
    },
    {
      "data": {"values": [{}]},
      "mark": {"type": "rule", "color": "black", "strokeWidth": 1.5},
      "encoding": {"x": {"datum": 1, "type": "quantitative", "scale": {"type": "log", "domain": [0.002, 1]}}}
    },
    {
      "data": {"values": [{}]},
      "mark": {"type": "text", "text": "ILC BD,", "color": "black", "font": "DejaVu Sans", "fontSize": 29, "align": "left", "baseline": "alphabetic"},
      "encoding": {
        "x": {"datum": 0.02016, "type": "quantitative", "scale": {"type": "log", "domain": [0.002, 1]}},
        "y": {"datum": 1.276e-4, "type": "quantitative", "scale": {"type": "log", "domain": [1e-8, 1e-4]}}
      }
    },
    {
      "data": {"values": [{}]},
      "mark": {"type": "text", "text": "L", "color": "black", "font": "DejaVu Sans", "fontStyle": "italic", "fontSize": 29, "align": "left", "baseline": "alphabetic"},
      "encoding": {
        "x": {"datum": 0.04773, "type": "quantitative", "scale": {"type": "log", "domain": [0.002, 1]}},
        "y": {"datum": 1.276e-4, "type": "quantitative", "scale": {"type": "log", "domain": [1e-8, 1e-4]}}
      }
    },
    {
      "data": {"values": [{}]},
      "mark": {"type": "text", "text": "μ", "color": "black", "font": "DejaVu Sans", "fontStyle": "italic", "fontSize": 20, "align": "left", "baseline": "alphabetic"},
      "encoding": {
        "x": {"datum": 0.05352, "type": "quantitative", "scale": {"type": "log", "domain": [0.002, 1]}},
        "y": {"datum": 1.170e-4, "type": "quantitative", "scale": {"type": "log", "domain": [1e-8, 1e-4]}}
      }
    },
    {
      "data": {"values": [{}]},
      "mark": {"type": "text", "text": "−", "color": "black", "font": "DejaVu Sans", "fontSize": 29, "align": "left", "baseline": "alphabetic"},
      "encoding": {
        "x": {"datum": 0.06185, "type": "quantitative", "scale": {"type": "log", "domain": [0.002, 1]}},
        "y": {"datum": 1.276e-4, "type": "quantitative", "scale": {"type": "log", "domain": [1e-8, 1e-4]}}
      }
    },
    {
      "data": {"values": [{}]},
      "mark": {"type": "text", "text": "L", "color": "black", "font": "DejaVu Sans", "fontStyle": "italic", "fontSize": 29, "align": "left", "baseline": "alphabetic"},
      "encoding": {
        "x": {"datum": 0.07834, "type": "quantitative", "scale": {"type": "log", "domain": [0.002, 1]}},
        "y": {"datum": 1.276e-4, "type": "quantitative", "scale": {"type": "log", "domain": [1e-8, 1e-4]}}
      }
    },
    {
      "data": {"values": [{}]},
      "mark": {"type": "text", "text": "τ", "color": "black", "font": "DejaVu Sans", "fontStyle": "italic", "fontSize": 20, "align": "left", "baseline": "alphabetic"},
      "encoding": {
        "x": {"datum": 0.08851, "type": "quantitative", "scale": {"type": "log", "domain": [0.002, 1]}},
        "y": {"datum": 1.170e-4, "type": "quantitative", "scale": {"type": "log", "domain": [1e-8, 1e-4]}}
      }
    },

    {"data": {"values": [{}]}, "mark": {"type": "rule", "color": "#008000", "strokeWidth": 2.5},
     "encoding": {"x": {"datum": 1.556, "type": "quantitative", "scale": {"type": "log", "domain": [0.002, 1]}}, "x2": {"datum": 2.757},
                  "y": {"datum": 4.512e-5, "type": "quantitative", "scale": {"type": "log", "domain": [1e-8, 1e-4]}}}},
    {"data": {"values": [{}]}, "mark": {"type": "rule", "color": "#000080", "strokeWidth": 6.5, "strokeCap": "round"},
     "encoding": {"x": {"datum": 1.556, "type": "quantitative", "scale": {"type": "log", "domain": [0.002, 1]}}, "x2": {"datum": 2.757},
                  "y": {"datum": 1.946e-5, "type": "quantitative", "scale": {"type": "log", "domain": [1e-8, 1e-4]}}}},
    {"data": {"values": [{}]}, "mark": {"type": "rule", "color": "#FF0000", "strokeWidth": 2.8},
     "encoding": {"x": {"datum": 1.556, "type": "quantitative", "scale": {"type": "log", "domain": [0.002, 1]}}, "x2": {"datum": 2.757},
                  "y": {"datum": 8.395e-6, "type": "quantitative", "scale": {"type": "log", "domain": [1e-8, 1e-4]}}}},
    {"data": {"values": [{}]}, "mark": {"type": "rule", "color": "#008000", "strokeWidth": 3, "strokeDash": [3, 7]},
     "encoding": {"x": {"datum": 1.556, "type": "quantitative", "scale": {"type": "log", "domain": [0.002, 1]}}, "x2": {"datum": 2.757},
                  "y": {"datum": 2.375e-6, "type": "quantitative", "scale": {"type": "log", "domain": [1e-8, 1e-4]}}}},
    {"data": {"values": [{}]}, "mark": {"type": "rule", "color": "#000080", "strokeWidth": 6.5, "strokeDash": [1.8, 9.9], "strokeCap": "round"},
     "encoding": {"x": {"datum": 1.556, "type": "quantitative", "scale": {"type": "log", "domain": [0.002, 1]}}, "x2": {"datum": 2.757},
                  "y": {"datum": 1.025e-6, "type": "quantitative", "scale": {"type": "log", "domain": [1e-8, 1e-4]}}}},
    {"data": {"values": [{}]}, "mark": {"type": "rule", "color": "#FF0000", "strokeWidth": 3, "strokeDash": [3, 7]},
     "encoding": {"x": {"datum": 1.556, "type": "quantitative", "scale": {"type": "log", "domain": [0.002, 1]}}, "x2": {"datum": 2.757},
                  "y": {"datum": 4.419e-7, "type": "quantitative", "scale": {"type": "log", "domain": [1e-8, 1e-4]}}}},

    {"data": {"values": [{}]}, "mark": {"type": "text", "text": "N", "color": "#008000", "font": "Liberation Sans", "fontSize": 29, "align": "left", "baseline": "alphabetic", "dy": 8.5},
     "encoding": {"x": {"datum": 3.068, "type": "quantitative", "scale": {"type": "log", "domain": [0.002, 1]}},
                  "y": {"datum": 4.512e-5, "type": "quantitative", "scale": {"type": "log", "domain": [1e-8, 1e-4]}}}},
    {"data": {"values": [{}]}, "mark": {"type": "text", "text": "signal", "color": "#008000", "font": "Liberation Sans", "fontSize": 24, "align": "left", "baseline": "alphabetic", "dy": 16},
     "encoding": {"x": {"datum": 3.711, "type": "quantitative", "scale": {"type": "log", "domain": [0.002, 1]}},
                  "y": {"datum": 4.512e-5, "type": "quantitative", "scale": {"type": "log", "domain": [1e-8, 1e-4]}}}},
    {"data": {"values": [{}]}, "mark": {"type": "text", "text": "= 100/yr, Brems.", "color": "#008000", "font": "Liberation Sans", "fontSize": 29, "align": "left", "baseline": "alphabetic", "dy": 8.5},
     "encoding": {"x": {"datum": 6.753, "type": "quantitative", "scale": {"type": "log", "domain": [0.002, 1]}},
                  "y": {"datum": 4.512e-5, "type": "quantitative", "scale": {"type": "log", "domain": [1e-8, 1e-4]}}}},

    {"data": {"values": [{}]}, "mark": {"type": "text", "text": "N", "color": "#000080", "font": "Liberation Sans", "fontSize": 29, "align": "left", "baseline": "alphabetic", "dy": 8.5},
     "encoding": {"x": {"datum": 3.068, "type": "quantitative", "scale": {"type": "log", "domain": [0.002, 1]}},
                  "y": {"datum": 1.946e-5, "type": "quantitative", "scale": {"type": "log", "domain": [1e-8, 1e-4]}}}},
    {"data": {"values": [{}]}, "mark": {"type": "text", "text": "signal", "color": "#000080", "font": "Liberation Sans", "fontSize": 24, "align": "left", "baseline": "alphabetic", "dy": 16},
     "encoding": {"x": {"datum": 3.711, "type": "quantitative", "scale": {"type": "log", "domain": [0.002, 1]}},
                  "y": {"datum": 1.946e-5, "type": "quantitative", "scale": {"type": "log", "domain": [1e-8, 1e-4]}}}},
    {"data": {"values": [{}]}, "mark": {"type": "text", "text": "= 1/yr, Brems.", "color": "#000080", "font": "Liberation Sans", "fontSize": 29, "align": "left", "baseline": "alphabetic", "dy": 8.5},
     "encoding": {"x": {"datum": 6.753, "type": "quantitative", "scale": {"type": "log", "domain": [0.002, 1]}},
                  "y": {"datum": 1.946e-5, "type": "quantitative", "scale": {"type": "log", "domain": [1e-8, 1e-4]}}}},

    {"data": {"values": [{}]}, "mark": {"type": "text", "text": "N", "color": "#FF0000", "font": "Liberation Sans", "fontSize": 29, "align": "left", "baseline": "alphabetic", "dy": 8.5},
     "encoding": {"x": {"datum": 3.068, "type": "quantitative", "scale": {"type": "log", "domain": [0.002, 1]}},
                  "y": {"datum": 8.395e-6, "type": "quantitative", "scale": {"type": "log", "domain": [1e-8, 1e-4]}}}},
    {"data": {"values": [{}]}, "mark": {"type": "text", "text": "signal", "color": "#FF0000", "font": "Liberation Sans", "fontSize": 24, "align": "left", "baseline": "alphabetic", "dy": 16},
     "encoding": {"x": {"datum": 3.711, "type": "quantitative", "scale": {"type": "log", "domain": [0.002, 1]}},
                  "y": {"datum": 8.395e-6, "type": "quantitative", "scale": {"type": "log", "domain": [1e-8, 1e-4]}}}},
    {"data": {"values": [{}]}, "mark": {"type": "text", "text": "= 0.01/yr, Brems.", "color": "#FF0000", "font": "Liberation Sans", "fontSize": 29, "align": "left", "baseline": "alphabetic", "dy": 8.5},
     "encoding": {"x": {"datum": 6.753, "type": "quantitative", "scale": {"type": "log", "domain": [0.002, 1]}},
                  "y": {"datum": 8.395e-6, "type": "quantitative", "scale": {"type": "log", "domain": [1e-8, 1e-4]}}}},

    {"data": {"values": [{}]}, "mark": {"type": "text", "text": "N", "color": "#008000", "font": "Liberation Sans", "fontSize": 29, "align": "left", "baseline": "alphabetic", "dy": 8.5},
     "encoding": {"x": {"datum": 3.068, "type": "quantitative", "scale": {"type": "log", "domain": [0.002, 1]}},
                  "y": {"datum": 2.375e-6, "type": "quantitative", "scale": {"type": "log", "domain": [1e-8, 1e-4]}}}},
    {"data": {"values": [{}]}, "mark": {"type": "text", "text": "signal", "color": "#008000", "font": "Liberation Sans", "fontSize": 24, "align": "left", "baseline": "alphabetic", "dy": 16},
     "encoding": {"x": {"datum": 3.711, "type": "quantitative", "scale": {"type": "log", "domain": [0.002, 1]}},
                  "y": {"datum": 2.375e-6, "type": "quantitative", "scale": {"type": "log", "domain": [1e-8, 1e-4]}}}},
    {"data": {"values": [{}]}, "mark": {"type": "text", "text": "= 100/yr, Annihilation", "color": "#008000", "font": "Liberation Sans", "fontSize": 29, "align": "left", "baseline": "alphabetic", "dy": 8.5},
     "encoding": {"x": {"datum": 6.377, "type": "quantitative", "scale": {"type": "log", "domain": [0.002, 1]}},
                  "y": {"datum": 2.375e-6, "type": "quantitative", "scale": {"type": "log", "domain": [1e-8, 1e-4]}}}},

    {"data": {"values": [{}]}, "mark": {"type": "text", "text": "N", "color": "#000080", "font": "Liberation Sans", "fontSize": 29, "align": "left", "baseline": "alphabetic", "dy": 8.5},
     "encoding": {"x": {"datum": 3.068, "type": "quantitative", "scale": {"type": "log", "domain": [0.002, 1]}},
                  "y": {"datum": 1.025e-6, "type": "quantitative", "scale": {"type": "log", "domain": [1e-8, 1e-4]}}}},
    {"data": {"values": [{}]}, "mark": {"type": "text", "text": "signal", "color": "#000080", "font": "Liberation Sans", "fontSize": 24, "align": "left", "baseline": "alphabetic", "dy": 16},
     "encoding": {"x": {"datum": 3.711, "type": "quantitative", "scale": {"type": "log", "domain": [0.002, 1]}},
                  "y": {"datum": 1.025e-6, "type": "quantitative", "scale": {"type": "log", "domain": [1e-8, 1e-4]}}}},
    {"data": {"values": [{}]}, "mark": {"type": "text", "text": "= 1/yr, Annihilation", "color": "#000080", "font": "Liberation Sans", "fontSize": 29, "align": "left", "baseline": "alphabetic", "dy": 8.5},
     "encoding": {"x": {"datum": 6.377, "type": "quantitative", "scale": {"type": "log", "domain": [0.002, 1]}},
                  "y": {"datum": 1.025e-6, "type": "quantitative", "scale": {"type": "log", "domain": [1e-8, 1e-4]}}}},

    {"data": {"values": [{}]}, "mark": {"type": "text", "text": "N", "color": "#FF0000", "font": "Liberation Sans", "fontSize": 29, "align": "left", "baseline": "alphabetic", "dy": 8.5},
     "encoding": {"x": {"datum": 3.068, "type": "quantitative", "scale": {"type": "log", "domain": [0.002, 1]}},
                  "y": {"datum": 4.419e-7, "type": "quantitative", "scale": {"type": "log", "domain": [1e-8, 1e-4]}}}},
    {"data": {"values": [{}]}, "mark": {"type": "text", "text": "signal", "color": "#FF0000", "font": "Liberation Sans", "fontSize": 24, "align": "left", "baseline": "alphabetic", "dy": 16},
     "encoding": {"x": {"datum": 3.711, "type": "quantitative", "scale": {"type": "log", "domain": [0.002, 1]}},
                  "y": {"datum": 4.419e-7, "type": "quantitative", "scale": {"type": "log", "domain": [1e-8, 1e-4]}}}},
    {"data": {"values": [{}]}, "mark": {"type": "text", "text": "= 0.01/yr, Annihilation", "color": "#FF0000", "font": "Liberation Sans", "fontSize": 29, "align": "left", "baseline": "alphabetic", "dy": 8.5},
     "encoding": {"x": {"datum": 6.377, "type": "quantitative", "scale": {"type": "log", "domain": [0.002, 1]}},
                  "y": {"datum": 4.419e-7, "type": "quantitative", "scale": {"type": "log", "domain": [1e-8, 1e-4]}}}}
  ]
}
